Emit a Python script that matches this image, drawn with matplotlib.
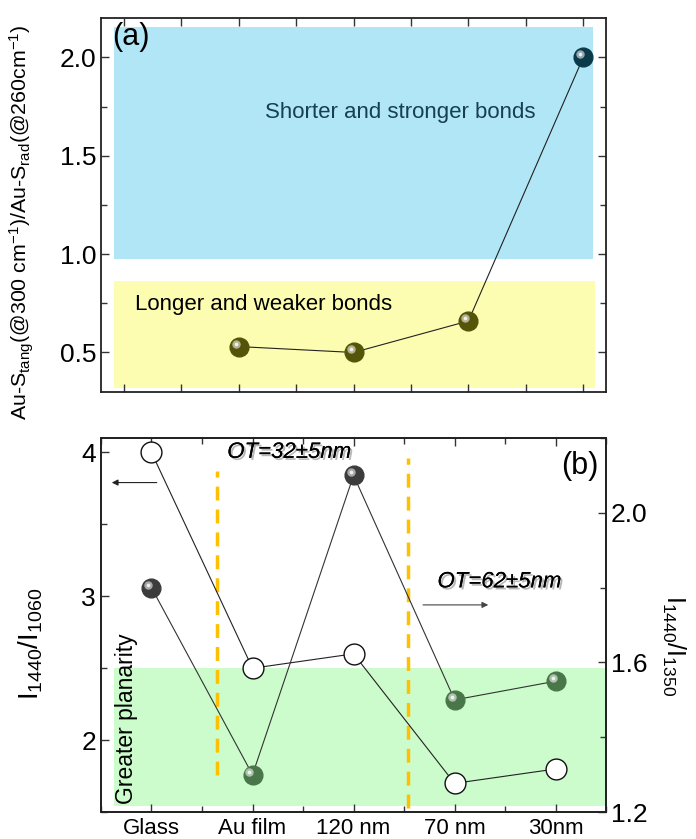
import numpy as np
import matplotlib
matplotlib.use('Agg')
import matplotlib.pyplot as plt
import matplotlib.patheffects as pe
from matplotlib.transforms import ScaledTranslation
from matplotlib.ticker import MultipleLocator, FixedLocator, FormatStrFormatter

plt.rcParams['font.family'] = ['Liberation Sans', 'DejaVu Sans']
plt.rcParams['mathtext.fontset'] = 'custom'
plt.rcParams['mathtext.rm'] = 'Liberation Sans'
plt.rcParams['mathtext.it'] = 'Liberation Sans:italic'

# panel (a) data
a_x = [2, 4, 6, 8]
a_ratio = [0.53, 0.50, 0.66, 2.00]
a_colors = ['#55550a', '#55550a', '#55550a', '#0b3b4b']

# panel (b) data
samples = ['Glass', 'Au film', '120 nm', '70 nm', '30nm']
r_1060 = [4.0, 2.5, 2.6, 1.70, 1.80]      # hollow circles, left axis
r_1350 = [1.80, 1.30, 2.10, 1.50, 1.55]   # spheres, right axis
b_colors = ['#3c3c3c', '#4a774a', '#3c3c3c', '#4a774a', '#4a774a']
ot_lines = [0.65, 2.54]

fig = plt.figure(figsize=(6.96, 8.39), dpi=100)
ax1 = fig.add_axes([0.145, 0.533, 0.726, 0.4455])
ax2 = fig.add_axes([0.145, 0.032, 0.726, 0.446])


def sphere(ax, x, y, colors, size=13.5):
    # fake 3D ball: dark disc + light highlight up-left
    off = ScaledTranslation(-2.2 / 72, 2.2 / 72, fig.dpi_scale_trans)
    for xi, yi, c in zip(x, y, colors):
        ax.plot(xi, yi, 'o', ms=size, mfc=c, mec=c, zorder=5)
        ax.plot(xi, yi, 'o', ms=size * 0.45, mfc='white', mec='none', alpha=0.55,
                zorder=6, transform=ax.transData + off)
        ax.plot(xi, yi, 'o', ms=size * 0.2, mfc='white', mec='none', alpha=0.8,
                zorder=7, transform=ax.transData + off)


def style(ax):
    for s in ax.spines.values():
        s.set_linewidth(1.3)
        s.set_color('#222222')
    ax.tick_params(which='both', direction='in', width=1.0, color='#333333')
    ax.tick_params(which='major', length=6, labelsize=19)
    ax.tick_params(which='minor', length=4)


# ---- panel (a)
ax1.axhspan(0.975, 2.152, xmin=(-0.17 + 0.4) / 8.8, xmax=(8.17 + 0.4) / 8.8,
            color='#b1e6f7', lw=0, zorder=0)
ax1.axhspan(0.317, 0.863, xmin=(-0.17 + 0.4) / 8.8, xmax=(8.2 + 0.4) / 8.8,
            color='#fdfdb2', lw=0, zorder=0)
ax1.plot(a_x, a_ratio, '-', color='#222222', lw=0.8, zorder=3)
sphere(ax1, a_x, a_ratio, a_colors)
ax1.set_xlim(-0.4, 8.4)
ax1.set_ylim(0.3, 2.2)
ax1.xaxis.set_major_locator(MultipleLocator(1))
ax1.set_xticklabels([])
ax1.yaxis.set_major_locator(MultipleLocator(0.5))
ax1.yaxis.set_minor_locator(MultipleLocator(0.25))
ax1.yaxis.set_major_formatter(FormatStrFormatter('%.1f'))
style(ax1)
ax1.tick_params(top=True, right=True, which='both')
ax1.set_ylabel('Au-S$_{\\mathregular{tang}}$(@300 cm$^{\\mathregular{-1}}$)/Au-S$_{\\mathregular{rad}}$(@260cm$^{\\mathregular{-1}}$)',
               fontsize=15.4)
ax1.yaxis.set_label_coords(-0.128, 0.455)
ax1.text(0.022, 0.99, '(a)', transform=ax1.transAxes, fontsize=22, va='top')
ax1.text(4.82, 1.72, 'Shorter and stronger bonds', fontsize=16, color='#163f52',
         ha='center', va='center')
ax1.text(0.2, 0.745, 'Longer and weaker bonds', fontsize=16, ha='left', va='center')

# ---- panel (b)
ax2.axhspan(1.54, 2.5, xmin=(-0.37 + 0.5) / 5.0, xmax=1.0, color='#ccfccc', lw=0, zorder=0)
ax2.vlines(ot_lines[0], 1.76, 3.87, colors='#ffc000', lw=2.5, linestyles=(0, (4, 2.6)), zorder=2)
ax2.vlines(ot_lines[1], 1.53, 3.96, colors='#ffc000', lw=2.5, linestyles=(0, (4, 2.6)), zorder=2)
xs = np.arange(len(samples))
ax2.plot(xs, r_1060, '-', color='#222222', lw=0.8, zorder=3)
ax2.plot(xs, r_1060, 'o', ms=15, mfc='white', mec='#111111', mew=1.0, zorder=4)
ax2.set_xlim(-0.5, 4.5)
ax2.set_ylim(1.5, 4.1)
ax2.set_xticks(xs)
ax2.xaxis.set_minor_locator(MultipleLocator(0.5))
ax2.yaxis.set_major_locator(MultipleLocator(1))
ax2.yaxis.set_minor_locator(MultipleLocator(0.5))
style(ax2)
ax2.set_xticklabels(samples)
ax2.tick_params(axis='x', labelsize=16, pad=4, top=True, which='both')
ax2.set_ylabel('I$_{\\mathregular{1440}}$/I$_{\\mathregular{1060}}$', fontsize=20)
ax2.yaxis.set_label_coords(-0.111, 0.45)

ax3 = ax2.twinx()
ax3.plot(xs, r_1350, '-', color='#333333', lw=0.8, zorder=3)
sphere(ax3, xs, r_1350, b_colors)
ax3.set_ylim(1.2, 2.2)
ax3.yaxis.set_major_locator(MultipleLocator(0.4))
ax3.yaxis.set_major_formatter(FormatStrFormatter('%.1f'))
ax3.yaxis.set_minor_locator(FixedLocator([1.4, 1.8, 2.2]))
style(ax3)
ax3.set_ylabel('I$_{\\mathregular{1440}}$/I$_{\\mathregular{1350}}$', fontsize=18, rotation=270)
ax3.yaxis.set_label_coords(1.16, 0.444)

shadow = [pe.withSimplePatchShadow(offset=(1.5, -1.5), shadow_rgbFace='#888888', alpha=0.6),
          pe.Normal()]
ax2.text(0.75, 4.0, 'OT=32\u00b15nm', fontsize=16, style='italic', va='center',
         path_effects=shadow)
ax2.text(2.83, 3.1, 'OT=62\u00b15nm', fontsize=16, style='italic', va='center',
         path_effects=shadow)
ax2.text(0.985, 0.965, '(b)', transform=ax2.transAxes, fontsize=22, ha='right', va='top')
ax2.text(-0.25, 1.56, 'Greater planarity', fontsize=16.5, rotation=90, ha='center', va='bottom')
ax2.annotate('', xy=(-0.42, 3.79), xytext=(0.08, 3.79),
             arrowprops=dict(arrowstyle='-|>', color='#222222', lw=0.8, mutation_scale=9))
ax2.annotate('', xy=(3.36, 2.94), xytext=(2.66, 2.94),
             arrowprops=dict(arrowstyle='-|>', color='#444444', lw=0.8, mutation_scale=9))

fig.savefig('out.png', dpi=100)
